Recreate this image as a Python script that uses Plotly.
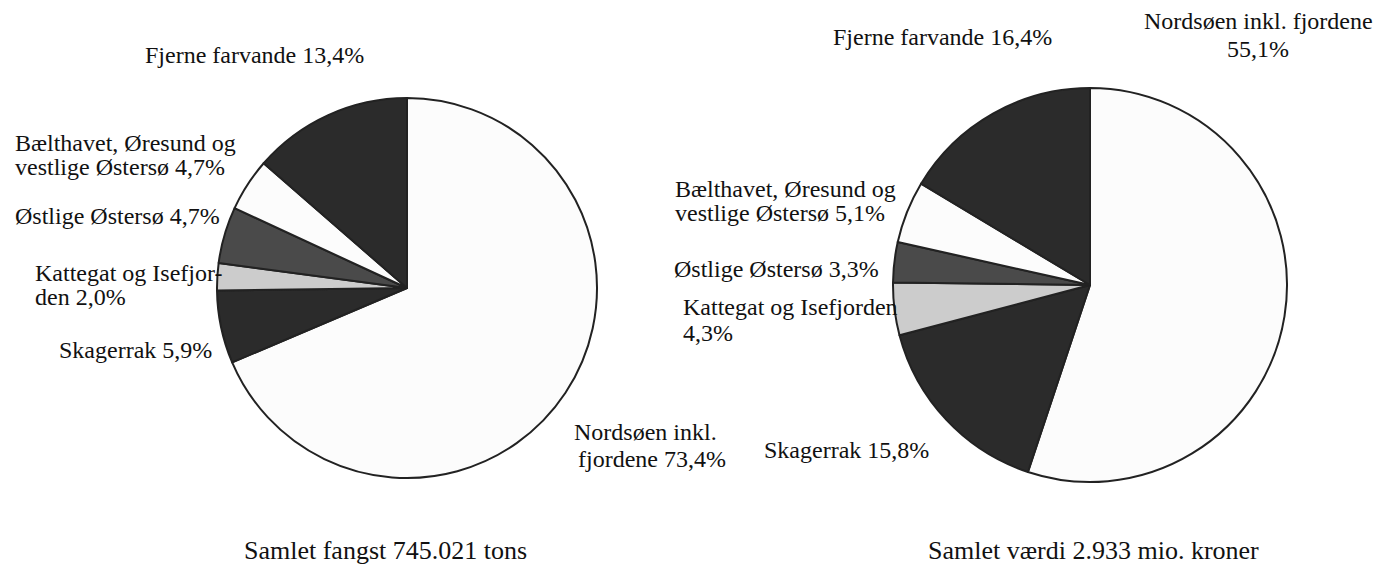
import plotly.graph_objects as go

W, H = 1390, 578
OFF = 8  # the html page body adds an 8px margin

# farvande / areas, clockwise from 12 o'clock
areas = ["Nordsøen inkl. fjordene", "Skagerrak", "Kattegat og Isefjorden",
         "Østlige Østersø", "Bælthavet, Øresund og vestlige Østersø", "Fjerne farvande"]
# slice sizes as drawn in the picture (catch, tons share)
catch_share = [68.6, 6.2, 2.3, 4.8, 4.5, 13.6]
# printed labels
catch_pct = ["73,4%", "5,9%", "2,0%", "4,7%", "4,7%", "13,4%"]
value_share = [55.1, 15.8, 4.3, 3.3, 5.1, 16.4]
value_pct = ["55,1%", "15,8%", "4,3%", "3,3%", "5,1%", "16,4%"]
slice_colors = ["#fcfcfc", "#2b2b2b", "#cccccc", "#4a4a4a", "#fcfcfc", "#2b2b2b"]

title_catch = "Samlet fangst 745.021 tons"
title_value = "Samlet værdi 2.933 mio. kroner"

FONT = "Liberation Serif, Times New Roman, serif"


def dom(cx, cy, r):
    cx, cy = cx - OFF, cy - OFF
    return dict(x=[(cx - r) / W, (cx + r) / W],
                y=[(H - cy - r) / H, (H - cy + r) / H])


fig = go.Figure()
fig.add_trace(go.Pie(labels=areas, values=catch_share, sort=False, direction="clockwise",
                     rotation=0, textinfo="none", hoverinfo="label+percent",
                     marker=dict(colors=slice_colors, line=dict(color="#222222", width=2)),
                     domain=dom(407, 288, 190), showlegend=False))
fig.add_trace(go.Pie(labels=areas, values=value_share, sort=False, direction="clockwise",
                     rotation=0, textinfo="none", hoverinfo="label+percent",
                     marker=dict(colors=slice_colors, line=dict(color="#222222", width=2)),
                     domain=dom(1090, 285, 197), showlegend=False))


def label(text, x, y, anchor="left", size=24):
    # one annotation per line so the line spacing stays tight
    fig.add_annotation(text=text, x=(x - OFF) / W, y=1 - (y - OFF) / H,
                       xref="paper", yref="paper",
                       xanchor=anchor, yanchor="middle", showarrow=False,
                       font=dict(family=FONT, size=size, color="#111111"))


# left pie labels
label("Fjerne farvande " + catch_pct[5], 143, 55)
label("Bælthavet, Øresund og", 13, 143)
label("vestlige Østersø " + catch_pct[4], 13, 167)
label("Østlige Østersø " + catch_pct[3], 13, 216)
label("Kattegat og Isefjor-", 33, 273)
label("den " + catch_pct[2], 33, 297)
label("Skagerrak " + catch_pct[1], 57, 350)
label("Nordsøen inkl.", 572, 432)
label("fjordene " + catch_pct[0], 576, 459)

# right pie labels
label("Fjerne farvande " + value_pct[5], 831, 37)
label("Nordsøen inkl. fjordene", 1258, 21, anchor="center")
label(value_pct[0], 1258, 49, anchor="center")
label("Bælthavet, Øresund og", 673, 189)
label("vestlige Østersø " + value_pct[4], 673, 213)
label("Østlige Østersø " + value_pct[3], 672, 269)
label("Kattegat og Isefjorden", 681, 307)
label(value_pct[2], 681, 333)
label("Skagerrak " + value_pct[1], 762, 450)

# totals under each pie
label(title_catch, 242, 550, size=26)
label(title_value, 1093, 550, anchor="center", size=26)

fig.update_layout(width=W, height=H, margin=dict(l=0, r=0, t=0, b=0),
                  paper_bgcolor="white", plot_bgcolor="white",
                  font=dict(family=FONT))
fig.write_html("out.html")
